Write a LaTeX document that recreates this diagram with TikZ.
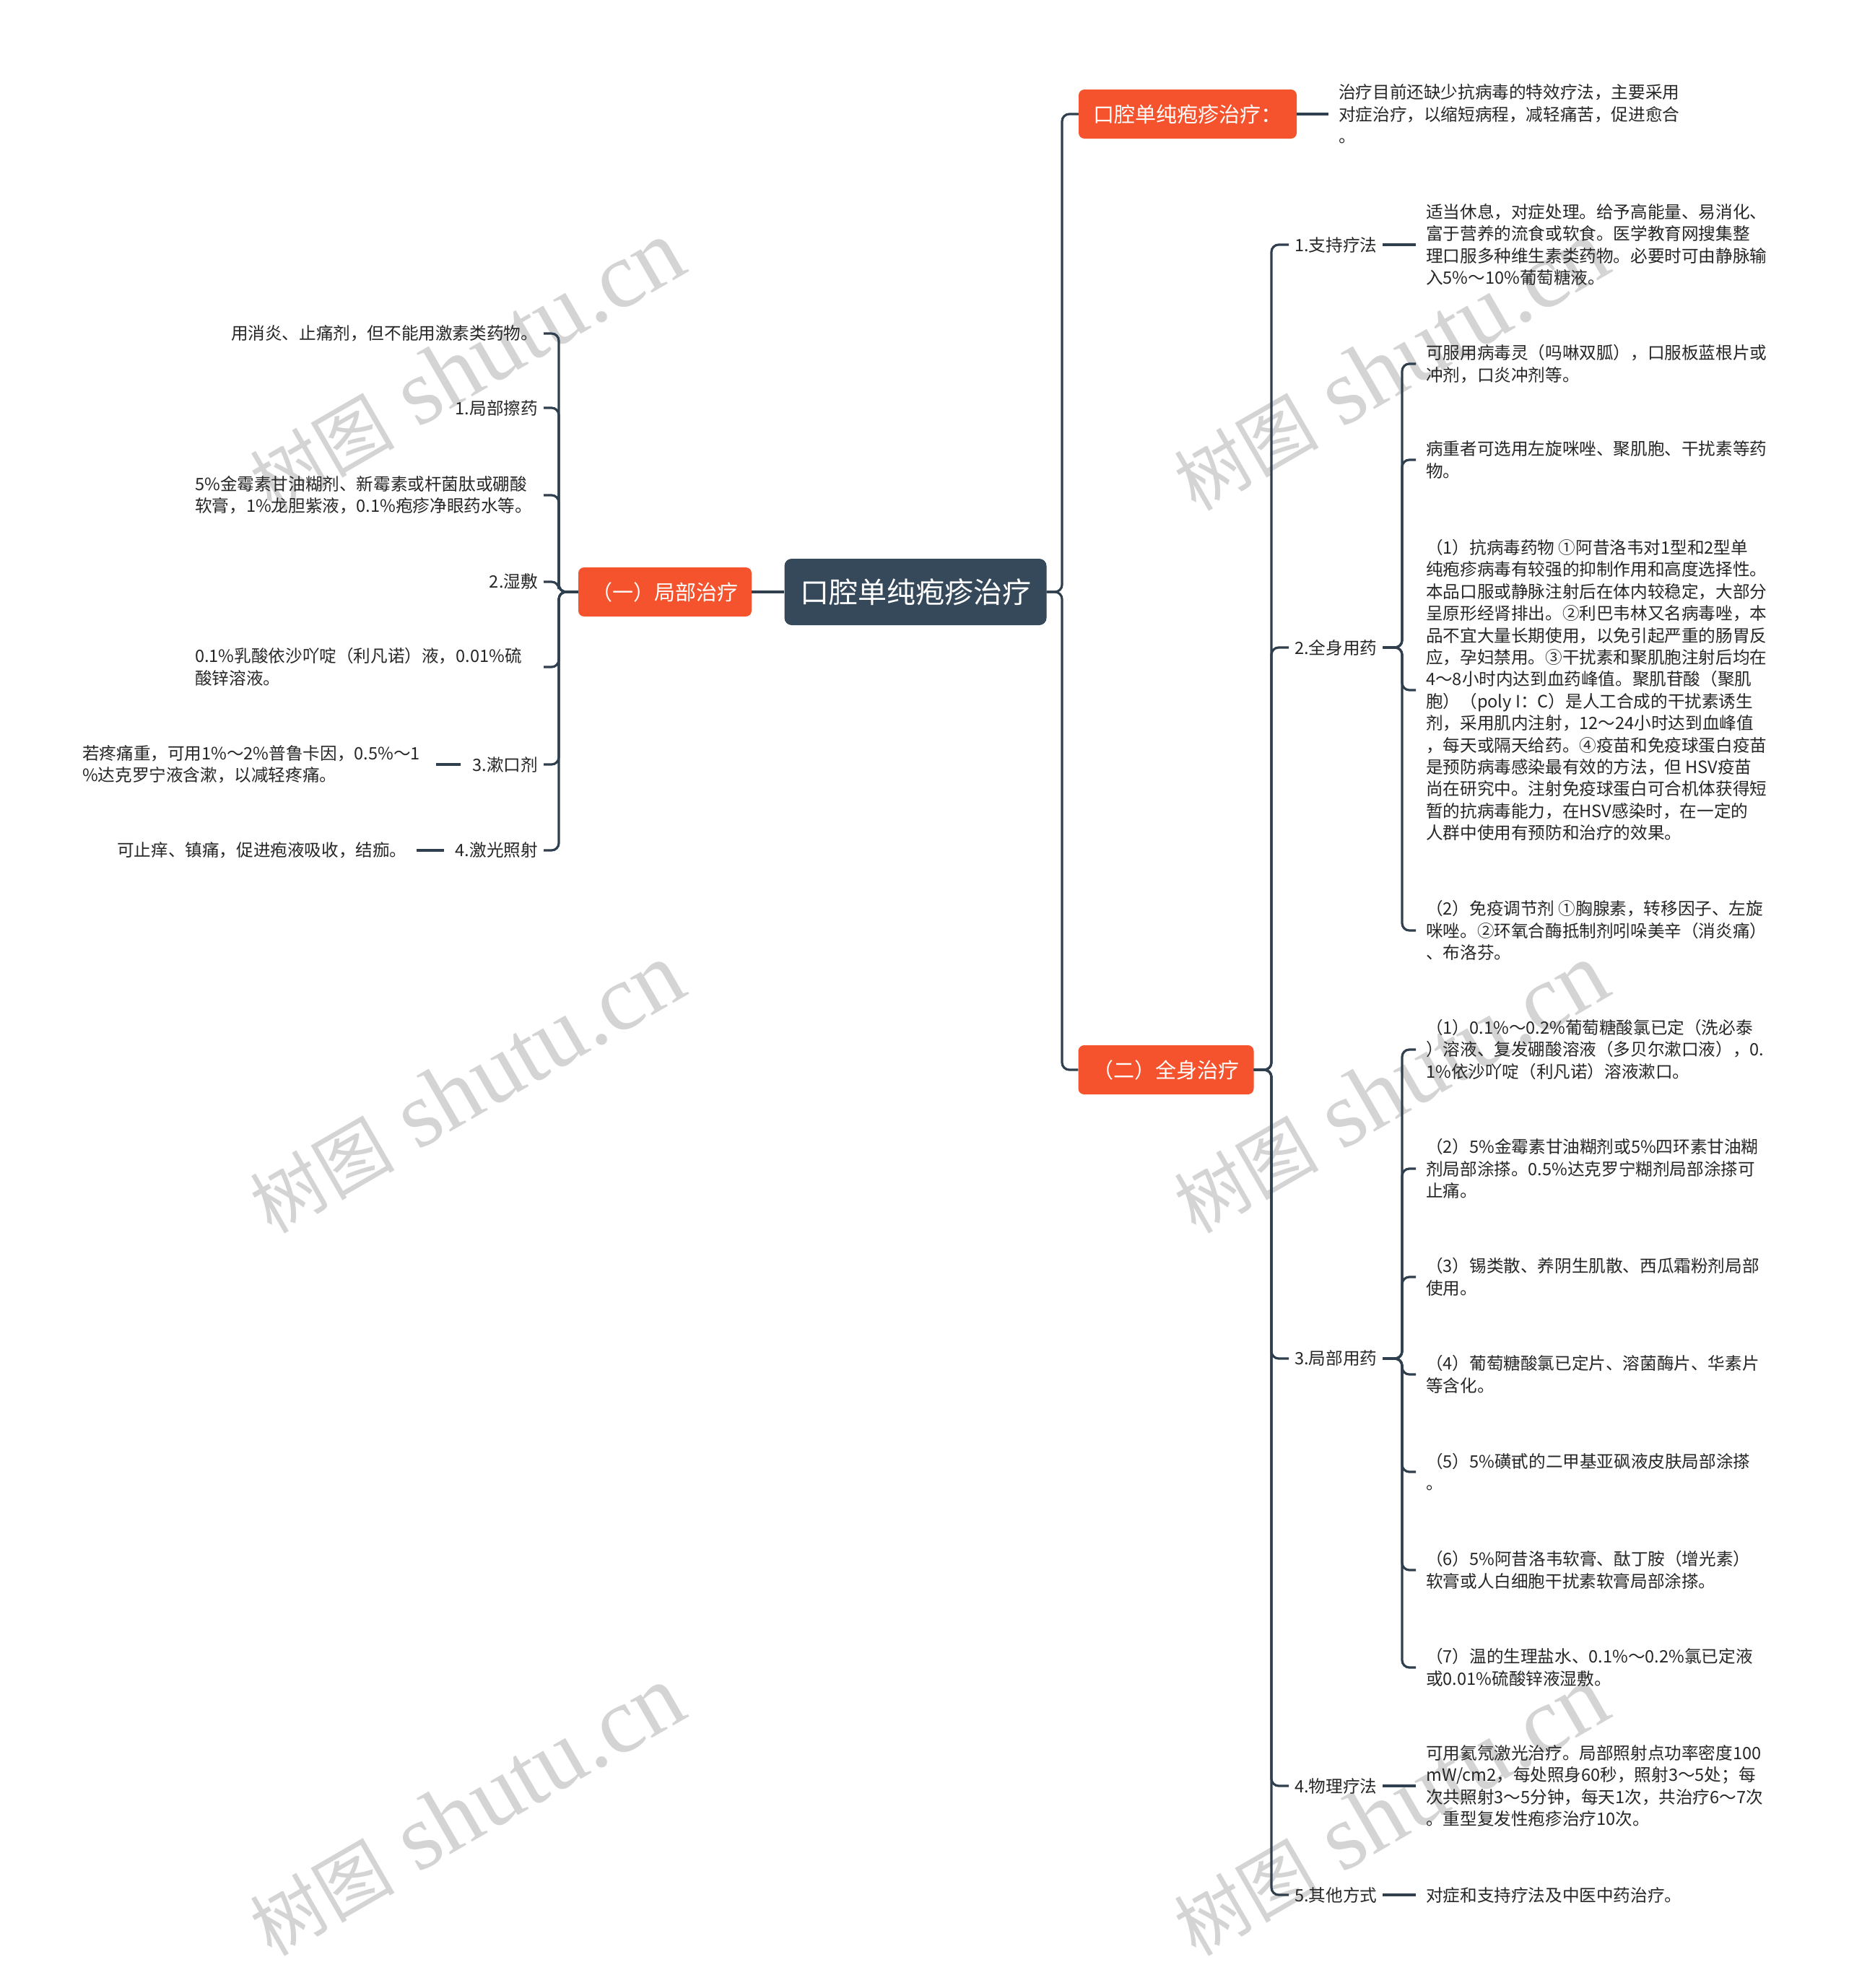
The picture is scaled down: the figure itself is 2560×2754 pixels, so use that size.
\documentclass[tikz,border=0pt]{standalone}
\usepackage{fontspec}
\setmainfont{Noto Sans CJK SC}
\newfontfamily\wmlat{Liberation Serif}
\newfontfamily\wmcjk{Noto Sans CJK SC}
\definecolor{orgC}{HTML}{F5532D}
\definecolor{rootC}{HTML}{36495A}
\definecolor{lineC}{HTML}{2F3F4E}
\definecolor{txtC}{HTML}{262626}
\definecolor{wmC}{HTML}{D4D4D4}
\tikzset{
  conn/.style={draw=lineC, line width=3.2pt, rounded corners=10pt},
  txt/.style={anchor=west, inner xsep=14pt, inner ysep=0pt, align=left, text=txtC, font=\fontsize{23.6}{30.4}\selectfont},
  ltxt/.style={anchor=west, inner xsep=0pt, inner ysep=0pt, align=left, text=txtC, font=\fontsize{23.6}{30.4}\selectfont},
  etxt/.style={anchor=east, inner xsep=8pt, inner ysep=0pt, align=left, text=txtC, font=\fontsize{23.6}{30.4}\selectfont},
  lbl/.style={inner xsep=8pt, inner ysep=2pt, text=txtC, font=\fontsize{23.6}{30.4}\selectfont},
  obox/.style={fill=orgC, rounded corners=8pt, text=white, font=\fontsize{29}{34}\selectfont, minimum height=68pt, inner xsep=4pt},
  rootbox/.style={fill=rootC, rounded corners=10pt, text=white, font=\fontsize{40}{46}\selectfont, minimum width=363pt, minimum height=92pt},
  wm/.style={text=wmC, rotate=30, inner sep=0pt}
}
\newcommand{\wmtext}{{\wmcjk\fontsize{100}{110}\selectfont 树图}{\wmlat\fontsize{130}{140}\selectfont\ shutu.cn}}
\begin{document}
\begin{tikzpicture}[x=1pt,y=-1pt]
\fill[white] (0,0) rectangle (2560,2754);
\useasboundingbox (0,0) rectangle (2560,2754);
% watermarks
\node[wm] (w1) at (646,507) {\wmtext};
\node[wm] (w2) at (646,1508) {\wmtext};
\node[wm] (w3) at (646,2509) {\wmtext};
\node[wm] (w4) at (1926,507) {\wmtext};
\node[wm] (w5) at (1926,1508) {\wmtext};
\node[wm] (w6) at (1926,2509) {\wmtext};

% main nodes
\node[rootbox] (root) at (1268,820) {口腔单纯疱疹治疗};
\node[obox, minimum width=240pt] (jb) at (921,820) {（一）局部治疗};
\node[obox, minimum width=302pt] (o1) at (1645,158) {口腔单纯疱疹治疗：};
\node[obox, minimum width=243pt] (qs) at (1615,1482) {（二）全身治疗};

\node[txt] (t0) at (1840,158) {治疗目前还缺少抗病毒的特效疗法，主要采用\\对症治疗，以缩短病程，减轻痛苦，促进愈合\\。};

% right labels
\node[lbl, anchor=west] (l1) at (1785,339) {1.支持疗法};
\node[lbl, anchor=west] (l2) at (1785,897) {2.全身用药};
\node[lbl, anchor=west] (l3) at (1785,1882) {3.局部用药};
\node[lbl, anchor=west] (l4) at (1785,2474) {4.物理疗法};
\node[lbl, anchor=west] (l5) at (1785,2625) {5.其他方式};

\node[txt] (t1) at (1961,339) {适当休息，对症处理。给予高能量、易消化、\\富于营养的流食或软食。医学教育网搜集整\\理口服多种维生素类药物。必要时可由静脉输\\入5\%～10\%葡萄糖液。};

\node[txt] (t21) at (1961,504) {可服用病毒灵（吗啉双胍），口服板蓝根片或\\冲剂，口炎冲剂等。};
\node[txt] (t22) at (1961,637) {病重者可选用左旋咪唑、聚肌胞、干扰素等药\\物。};
\node[txt] (t23) at (1961,956) {（1）抗病毒药物 ①阿昔洛韦对1型和2型单\\纯疱疹病毒有较强的抑制作用和高度选择性。\\本品口服或静脉注射后在体内较稳定，大部分\\呈原形经肾排出。②利巴韦林又名病毒唑，本\\品不宜大量长期使用，以免引起严重的肠胃反\\应，孕妇禁用。③干扰素和聚肌胞注射后均在\\4～8小时内达到血药峰值。聚肌苷酸（聚肌\\胞）（poly I：C）是人工合成的干扰素诱生\\剂，采用肌内注射，12～24小时达到血峰值\\，每天或隔天给药。④疫苗和免疫球蛋白疫苗\\是预防病毒感染最有效的方法，但 HSV疫苗\\尚在研究中。注射免疫球蛋白可合机体获得短\\暂的抗病毒能力，在HSV感染时，在一定的\\人群中使用有预防和治疗的效果。};
\node[txt] (t24) at (1961,1289) {（2）免疫调节剂 ①胸腺素，转移因子、左旋\\咪唑。②环氧合酶抵制剂吲哚美辛（消炎痛）\\、布洛芬。};

\node[txt] (t31) at (1961,1454) {（1）0.1\%～0.2\%葡萄糖酸氯已定（洗必泰\\）溶液、复发硼酸溶液（多贝尔漱口液），0.\\1\%依沙吖啶（利凡诺）溶液漱口。};
\node[txt] (t32) at (1961,1619) {（2）5\%金霉素甘油糊剂或5\%四环素甘油糊\\剂局部涂搽。0.5\%达克罗宁糊剂局部涂搽可\\止痛。};
\node[txt] (t33) at (1961,1769) {（3）锡类散、养阴生肌散、西瓜霜粉剂局部\\使用。};
\node[txt] (t34) at (1961,1904) {（4）葡萄糖酸氯已定片、溶菌酶片、华素片\\等含化。};
\node[txt] (t35) at (1961,2039) {（5）5\%磺甙的二甲基亚砜液皮肤局部涂搽\\。};
\node[txt] (t36) at (1961,2175) {（6）5\%阿昔洛韦软膏、酞丁胺（增光素）\\软膏或人白细胞干扰素软膏局部涂搽。};
\node[txt] (t37) at (1961,2310) {（7）温的生理盐水、0.1\%～0.2\%氯已定液\\或0.01\%硫酸锌液湿敷。};

\node[txt] (t4) at (1961,2474) {可用氦氖激光治疗。局部照射点功率密度100\\mW/cm2，每处照身60秒，照射3～5处；每\\次共照射3～5分钟，每天1次，共治疗6～7次\\。重型复发性疱疹治疗10次。};
\node[txt] (t5) at (1961,2625) {对症和支持疗法及中医中药治疗。};

% left nodes
\node[etxt] (a1) at (753,462) {用消炎、止痛剂，但不能用激素类药物。};
\node[lbl, anchor=east] (a2) at (753,565) {1.局部擦药};
\node[ltxt] (a3) at (270,686) {5\%金霉素甘油糊剂、新霉素或杆菌肽或硼酸\\软膏，1\%龙胆紫液，0.1\%疱疹净眼药水等。};
\node[lbl, anchor=east] (a4) at (753,806) {2.湿敷};
\node[ltxt] (a5) at (270,924) {0.1\%乳酸依沙吖啶（利凡诺）液，0.01\%硫\\酸锌溶液。};
\node[lbl, anchor=east] (a6) at (753,1059) {3.漱口剂};
\node[ltxt] (a6c) at (114,1059) {若疼痛重，可用1\%～2\%普鲁卡因，0.5\%～1\\\%达克罗宁液含漱，以减轻疼痛。};
\node[lbl, anchor=east] (a7) at (753,1178) {4.激光照射};
\node[ltxt] (a7c) at (162,1178) {可止痒、镇痛，促进疱液吸收，结痂。};

% junction coordinates
\coordinate (T1) at (1471,820);
\coordinate (T2) at (1761,1482);
\coordinate (B2) at (1942,897);
\coordinate (B3) at (1942,1882);
\coordinate (LB) at (774,820);
\coordinate (LH) at (753,0);

% connectors
\draw[conn] (root.west) -- (jb.east);
\draw[conn] (root.east) -- (T1) |- (o1.west);
\draw[conn] (root.east) -- (T1) |- (qs.west);
\draw[conn] (o1.east) -- (t0.west);

\foreach \c in {l1,l2,l3,l4,l5} {
  \draw[conn] (qs.east) -- (T2) |- (\c.west);
}
\draw[conn] (l1.east) -- (t1.west);
\foreach \c in {t21,t22,t23,t24} {
  \draw[conn] (l2.east) -- (B2) |- (\c.west);
}
\foreach \c in {t31,t32,t33,t34,t35,t36,t37} {
  \draw[conn] (l3.east) -- (B3) |- (\c.west);
}
\draw[conn] (l4.east) -- (t4.west);
\draw[conn] (l5.east) -- (t5.west);

\foreach \c in {a1,a2,a4,a6,a7} {
  \draw[conn] (jb.west) -- (LB) |- (\c.east);
}
\foreach \c in {a3,a5} {
  \draw[conn] (jb.west) -- (LB) |- (\c.west -| LH);
}
\draw[conn] ([xshift=22pt]a6c.east) -- ([xshift=-8pt]a6.west);
\draw[conn] ([xshift=13pt]a7c.east) -- ([xshift=-8pt]a7.west);
\end{tikzpicture}
\end{document}
